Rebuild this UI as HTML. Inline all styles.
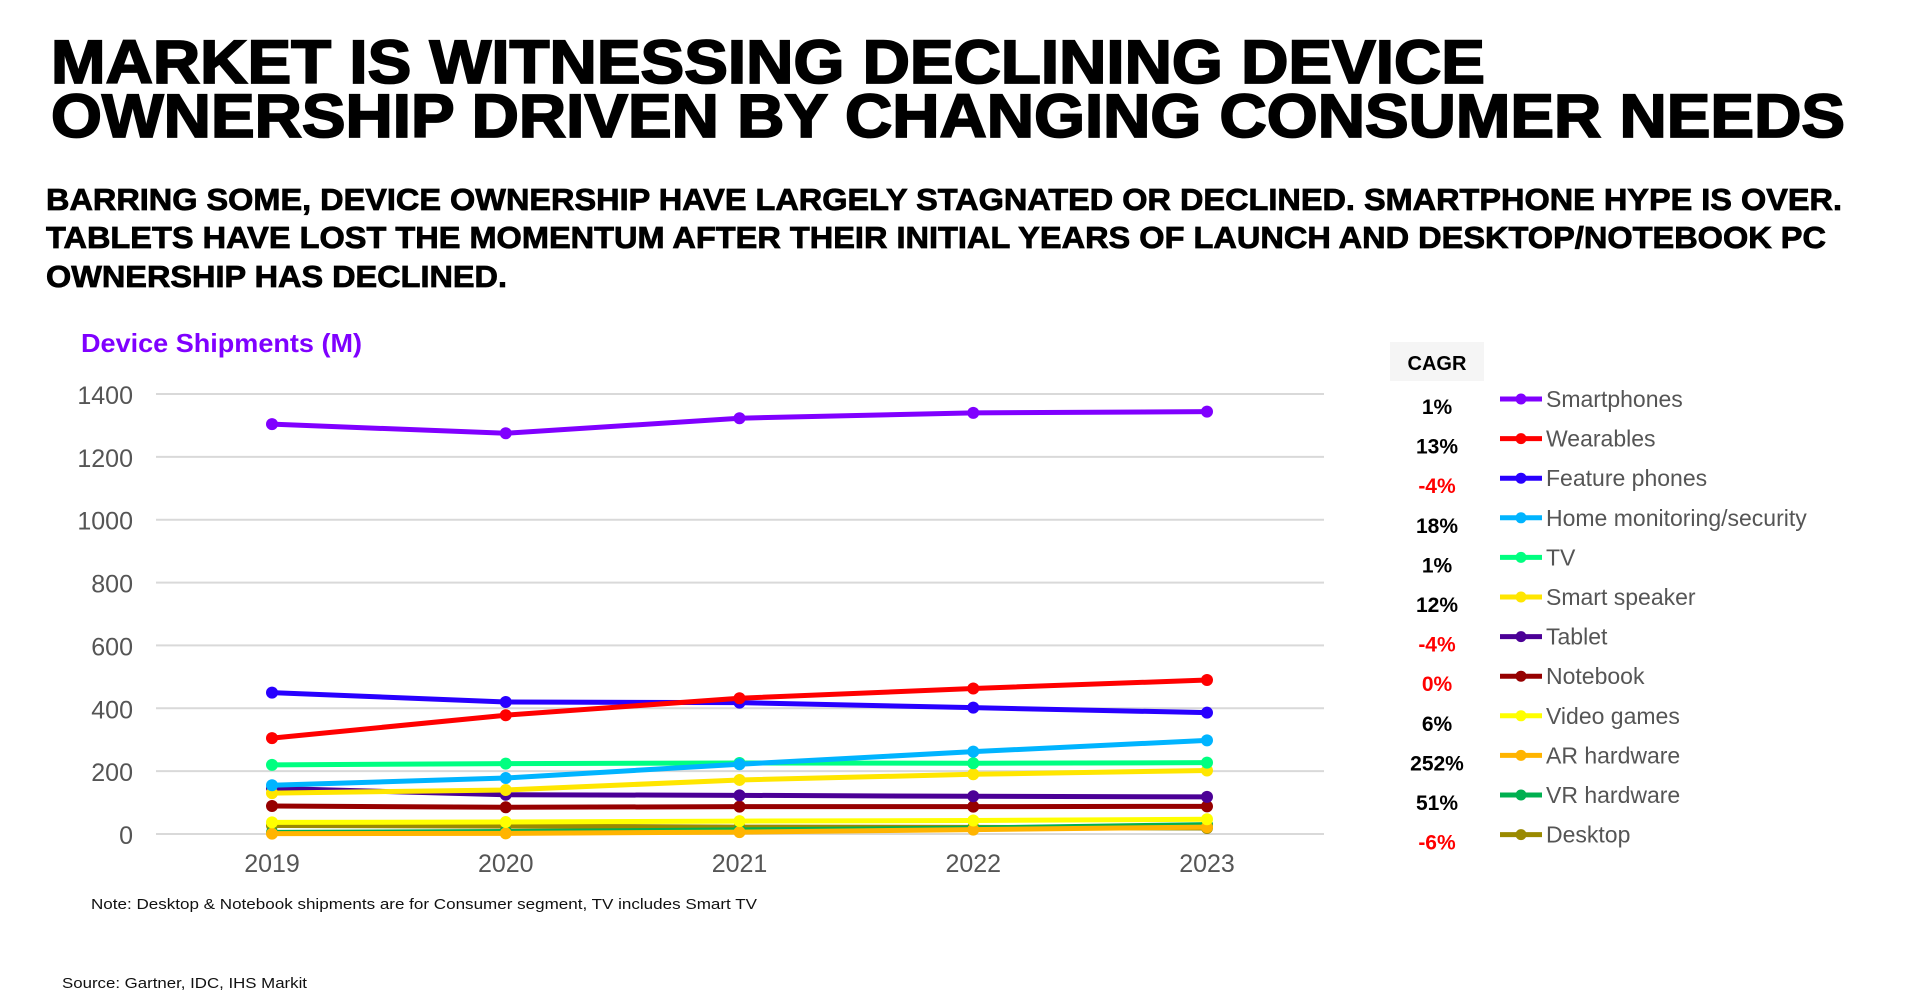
<!DOCTYPE html>
<html><head><meta charset="utf-8"><style>
html,body{margin:0;padding:0;background:#fff;}
svg{display:block;}
</style></head><body>
<svg id="chart" width="1905" height="997" viewBox="0 0 1905 997" xmlns="http://www.w3.org/2000/svg" font-family="Liberation Sans, sans-serif">
<g stroke="#000" stroke-width="1.8">
<text x="51" y="83" font-size="61" font-weight="bold" textLength="1434" lengthAdjust="spacingAndGlyphs">MARKET IS WITNESSING DECLINING DEVICE</text>
<text x="51" y="137" font-size="61" font-weight="bold" textLength="1794" lengthAdjust="spacingAndGlyphs">OWNERSHIP DRIVEN BY CHANGING CONSUMER NEEDS</text>
</g>
<g stroke="#000" stroke-width="0.8">
<text x="46" y="210" font-size="31" font-weight="bold" textLength="1796" lengthAdjust="spacingAndGlyphs">BARRING SOME, DEVICE OWNERSHIP HAVE LARGELY STAGNATED OR DECLINED. SMARTPHONE HYPE IS OVER.</text>
<text x="46" y="248" font-size="31" font-weight="bold" textLength="1780" lengthAdjust="spacingAndGlyphs">TABLETS HAVE LOST THE MOMENTUM AFTER THEIR INITIAL YEARS OF LAUNCH AND DESKTOP/NOTEBOOK PC</text>
<text x="46" y="287" font-size="31" font-weight="bold" textLength="461" lengthAdjust="spacingAndGlyphs">OWNERSHIP HAS DECLINED.</text>
</g>
<text x="81" y="352" font-size="26" font-weight="bold" fill="#7f00ff" textLength="281" lengthAdjust="spacingAndGlyphs">Device Shipments (M)</text>
<g id="grid"></g><g id="yticks"></g><g id="xticks"></g><g id="series"></g>
<rect x="1390" y="342" width="94" height="39" fill="#f5f5f5"/>
<text x="1437" y="370" font-size="20" font-weight="bold" text-anchor="middle">CAGR</text>
<g id="legend"></g>
<text x="91" y="909" font-size="15" fill="#111" textLength="666" lengthAdjust="spacingAndGlyphs">Note: Desktop &amp; Notebook shipments are for Consumer segment, TV includes Smart TV</text>
<text x="62" y="988" font-size="15" fill="#111" textLength="245" lengthAdjust="spacingAndGlyphs">Source: Gartner, IDC, IHS Markit</text>
</svg>
<script>
const years = ['2019','2020','2021','2022','2023'];
const yTicks = [0,200,400,600,800,1000,1200,1400];
const seriesNames = ['Smartphones','Wearables','Feature phones','Home monitoring/security','TV','Smart speaker','Tablet','Notebook','Video games','AR hardware','VR hardware','Desktop'];
const seriesColors = ['#8000ff','#ff0000','#2800ff','#00b4ff','#00ff80','#ffe600','#4b0096','#960000','#ffff00','#ffb400','#00b050','#9a8a00'];
const cagrLabels = ['1%','13%','-4%','18%','1%','12%','-4%','0%','6%','252%','51%','-6%'];
const smartphones = [1304,1275,1323,1340,1344];
const wearables = [305,378,432,463,490];
const featurePhones = [450,420,418,402,386];
const homeMonitoring = [155,178,222,262,298];
const tv = [220,224,226,225,227];
const smartSpeaker = [130,140,172,190,202];
const tablet = [145,125,123,120,118];
const notebook = [89,85,87,87,88];
const videoGames = [37,38,41,43,47];
const arHardware = [1,2,6,14,22];
const vrHardware = [5,8,13,19,30];
const desktop = [27,25,22,21,19];
const seriesValues = [smartphones,wearables,featurePhones,homeMonitoring,tv,smartSpeaker,tablet,notebook,videoGames,arHardware,vrHardware,desktop];

const NS='http://www.w3.org/2000/svg';
const X0=156,X1=1324,Y0=834,Y1=394,VMAX=1400;
const xPos=i=>272+i*233.75;
const yPos=v=>Y0-(v/VMAX)*(Y0-Y1);
function mk(tag,attrs,parent){const e=document.createElementNS(NS,tag);for(const k in attrs)e.setAttribute(k,attrs[k]);parent.appendChild(e);return e;}
const grid=document.getElementById('grid'),yt=document.getElementById('yticks'),xt=document.getElementById('xticks'),sg=document.getElementById('series'),lg=document.getElementById('legend');
yTicks.forEach(v=>{
  const l=mk('line',{x1:X0,x2:X1,y1:yPos(v),y2:yPos(v),stroke:'#d9d9d9','stroke-width':2},grid);
  
  
  const t=mk('text',{x:133,y:yPos(v)+10,'font-size':25,fill:'#555','text-anchor':'end'},yt);
  t.textContent=v;
  
  
});
years.forEach((y,i)=>{
  const t=mk('text',{x:xPos(i),y:872,'font-size':25,fill:'#555','text-anchor':'middle'},xt);
  t.textContent=y;
  
  
});
for(let s=seriesValues.length-1;s>=0;s--){
  const vals=seriesValues[s],c=seriesColors[s];
  const g=mk('g',{},sg);
  
  
  const p=mk('polyline',{points:vals.map((v,i)=>xPos(i)+','+yPos(v)).join(' '),fill:'none',stroke:c,'stroke-width':5,'stroke-linejoin':'round'},g);
  
  
  vals.forEach((v,i)=>{
    const d=mk('circle',{cx:xPos(i),cy:yPos(v),r:6,fill:c},g);
    
    
  });
}
seriesNames.forEach((n,i)=>{
  const cy=399+i*39.6;
  const g=mk('g',{},lg);
  
  
  mk('line',{x1:1500,x2:1542,y1:cy,y2:cy,stroke:seriesColors[i],'stroke-width':5},g);
  mk('circle',{cx:1521,cy:cy,r:5.5,fill:seriesColors[i]},g);
  const t=mk('text',{x:1546,y:cy+8,'font-size':23,fill:'#555'},g);
  t.textContent=n;
  const neg=cagrLabels[i].startsWith('-')||cagrLabels[i]==='0%';
  const ct=mk('text',{x:1437,y:cy+15,'font-size':21,'font-weight':'bold','text-anchor':'middle',fill:neg?'#ff0000':'#000'},lg);
  ct.textContent=cagrLabels[i];
  
  
});
</script>
</body></html>
